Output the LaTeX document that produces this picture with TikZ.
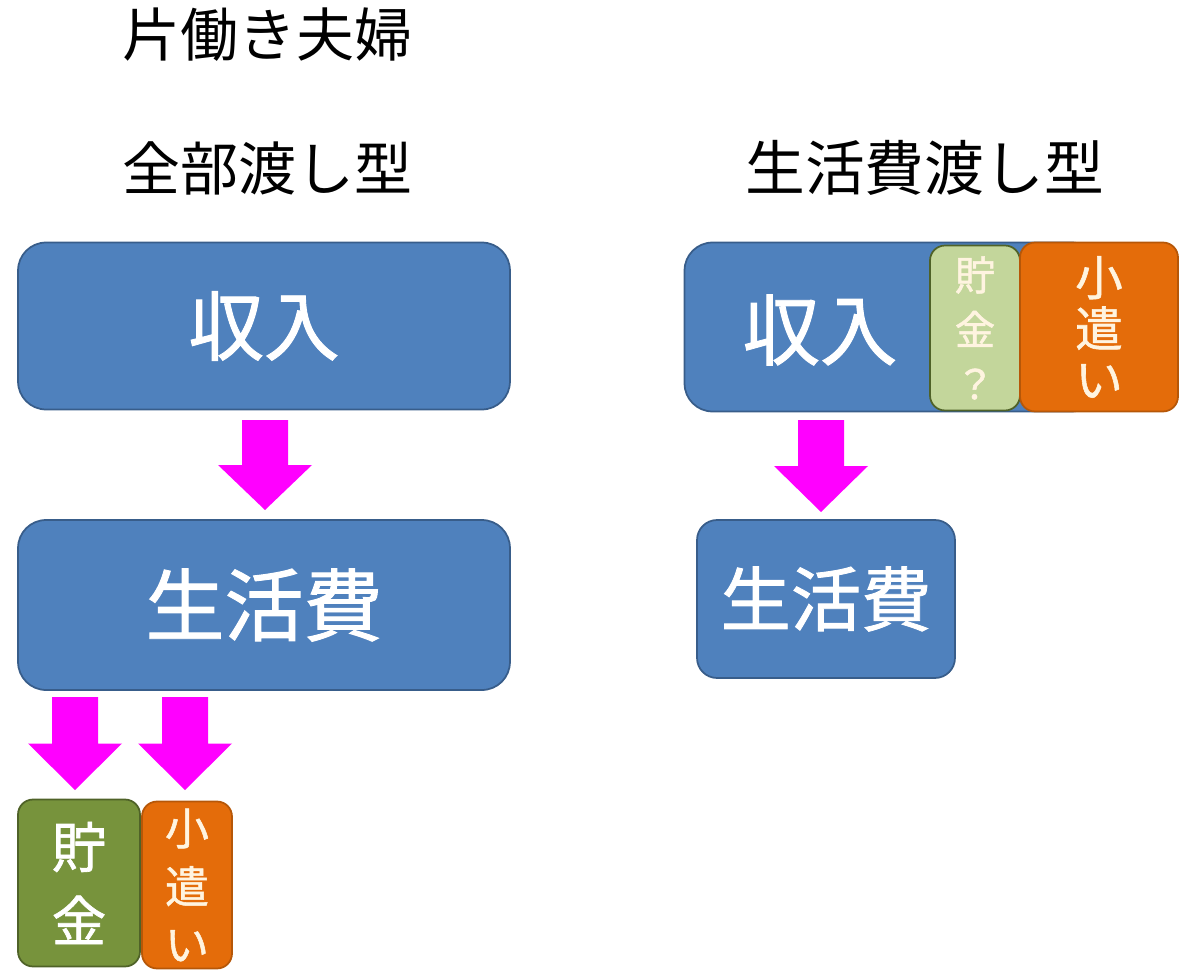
\documentclass[tikz,border=0pt]{standalone}
\usepackage{fontspec}
\setmainfont{Noto Sans CJK JP}
\newfontfamily\boxfont[FakeBold=1.2]{Noto Sans CJK JP}
\usepackage{xcolor}
\usetikzlibrary{positioning}
\definecolor{boxblue}{HTML}{4F81BD}
\definecolor{boxblueline}{HTML}{385D8A}
\definecolor{olive}{HTML}{77933C}
\definecolor{oliveline}{HTML}{4F6228}
\definecolor{paleolive}{HTML}{C3D69B}
\definecolor{boxorange}{HTML}{E46C0A}
\definecolor{orangeline}{HTML}{B65708}
\definecolor{cream}{HTML}{FFF4E0}
\definecolor{arrowpink}{HTML}{FF00FF}

\begin{document}
\begin{tikzpicture}[x=0.02cm,y=-0.02cm,
  box/.style={draw=#1line,line width=1pt,rounded corners=0.56cm,inner sep=0pt},
  tag/.style={rounded corners=0.3cm,line width=1pt,inner sep=0pt,align=center},
  heading/.style={anchor=west,inner sep=0pt,font=\fontsize{33}{33}\selectfont}]
  \useasboundingbox (0,0) rectangle (1200,976);
  % headings
  \node[heading] (title) at (122,35) {片働き夫婦};
  \node[heading] (typea) at (122,168) {全部渡し型};
  \node[heading,font=\fontsize{34}{34}\selectfont] (typeb) at (745,168) {生活費渡し型};
  % all income handed over
  \node[box=boxblue,fill=boxblue,text=white,minimum width=9.84cm,minimum height=3.34cm,
        font=\boxfont\fontsize{43}{43}\selectfont] (inca) at (264,326) {収入};
  \node[box=boxblue,fill=boxblue,text=white,minimum width=9.84cm,minimum height=3.4cm,
        font=\boxfont\fontsize{45}{45}\selectfont] (livinga) at (264,605) {生活費};
  \node[tag,draw=oliveline,fill=olive,text=white,minimum width=2.44cm,minimum height=3.34cm,
        font=\boxfont\fontsize{31}{42}\selectfont] (savea) at (79,883) {貯\\金};
  \node[tag,draw=orangeline,fill=boxorange,text=cream,minimum width=1.8cm,minimum height=3.34cm,
        font=\boxfont\fontsize{25}{33}\selectfont] (pocketa) at (187,885) {小\\遣\\い};
  % living costs handed over
  \node[box=boxblue,fill=boxblue,minimum width=8.3cm,minimum height=3.38cm] (incb) at (892,327) {};
  \node[text=white,font=\boxfont\fontsize{44}{44}\selectfont] (incbtext) at (820,330) {収入};
  \node[tag,draw=oliveline,fill=paleolive,text=cream,minimum width=1.8cm,minimum height=3.3cm,
        font=\boxfont\fontsize{23}{31}\selectfont] (saveb) at (975,328) {貯\\金\\？};
  \node[tag,draw=orangeline,fill=boxorange,text=cream,minimum width=3.16cm,minimum height=3.38cm,
        font=\boxfont\fontsize{27}{29}\selectfont] (pocketb) at (1099,327) {小\\遣\\い};
  \node[box=boxblue,fill=boxblue,text=white,minimum width=5.16cm,minimum height=3.16cm,
        rounded corners=0.4cm,font=\boxfont\fontsize{40}{40}\selectfont] (livingb) at (826,599) {生活費};
  % block arrows
  \foreach \x/\yt/\len in {265/420/90, 75/697/93, 185/697/93, 821/420/92} {
    \fill[arrowpink] (\x-23,\yt) -- (\x+23,\yt) -- (\x+23,\yt+\len/2) -- (\x+47,\yt+\len/2)
      -- (\x,\yt+\len) -- (\x-47,\yt+\len/2) -- (\x-23,\yt+\len/2) -- cycle;
  }
\end{tikzpicture}
\end{document}
